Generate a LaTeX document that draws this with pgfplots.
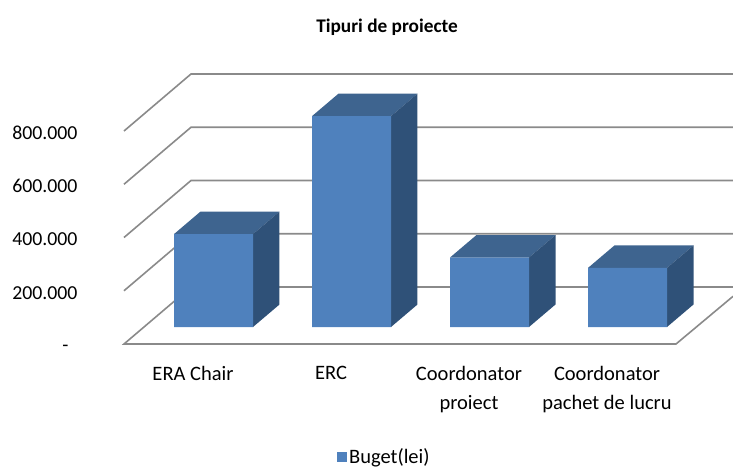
\documentclass[border=0pt]{standalone}
\usepackage{pgfplots}
\pgfplotsset{compat=1.18}
\usepackage{pgfplotstable}
\usepackage{fontspec}
\setmainfont{Carlito}
\definecolor{barfront}{HTML}{4F81BD}
\definecolor{bartop}{HTML}{3E648F}
\definecolor{barside}{HTML}{2F5178}
\definecolor{gridc}{HTML}{8A8A8A}
\pgfplotstableread{
x v
0 349000
1 792000
2 261000
3 222000
}\budget
\begin{document}
\begin{tikzpicture}[x=1pt,y=1pt]
\path[use as bounding box] (0,0) rectangle (733,467);
\begin{axis}[
  at={(124pt,123pt)}, anchor=south west,
  scale only axis, width=609pt, height=270pt,
  xmin=-0.5, xmax=3.913, ymin=0, ymax=1014085,
  clip=false,
  axis line style={draw=none},
  major tick length=0pt,
  xtick={0,1,2,3},
  xticklabels={ERA Chair,ERC,{Coordonator\\proiect},{Coordonator\\pachet de lucru}},
  xticklabel style={font=\fontsize{20.5}{28.5}\selectfont, align=center, anchor=north, yshift=-19pt},
  ytick={0,200000,400000,600000,800000},
  yticklabels={{\smash{\raisebox{-5pt}{-}}\rule{9pt}{0pt}},200.000,400.000,600.000,800.000},
  yticklabel style={font=\fontsize{19.8}{24}\selectfont, anchor=east, xshift=-43pt, yshift=-2pt},
  scaled y ticks=false,
  legend style={at={(0.3497,-0.4165)}, anchor=west, draw=none, fill=none, font=\fontsize{20.5}{24}\selectfont, inner sep=0pt},
  legend image code/.code={\fill[barfront] (-1pt,-23pt) rectangle (9pt,-13pt);},
]
% walls and floor
\addplot[gridc, line width=1.6pt, forget plot] coordinates {(-0.5,800000) (-0.0145,1014085) (3.913,1014085)};
\addplot[gridc, line width=1.6pt, forget plot] coordinates {(-0.5,600000) (-0.0145,814085) (3.913,814085)};
\addplot[gridc, line width=1.6pt, forget plot] coordinates {(-0.5,400000) (-0.0145,614085) (3.913,614085)};
\addplot[gridc, line width=1.6pt, forget plot] coordinates {(-0.5,200000) (-0.0145,414085) (3.913,414085)};
\addplot[gridc, line width=1.6pt, forget plot] coordinates {(-0.0145,214085) (3.913,214085)};
\addplot[gridc, line width=1.6pt, forget plot] coordinates {(-0.0145,214085) (-0.5,0) (3.5,0) (3.913,179000)};
% top faces
\addplot[fill=bartop, draw=none, xshift=20.5pt, yshift=17pt, forget plot] coordinates {(-0.2862,349000) (0.2862,349000) (0.4782,433507) (-0.0942,433507)} --cycle;
\addplot[fill=bartop, draw=none, xshift=20.5pt, yshift=17pt, forget plot] coordinates {(0.7138,792000) (1.2862,792000) (1.4782,876507) (0.9058,876507)} --cycle;
\addplot[fill=bartop, draw=none, xshift=20.5pt, yshift=17pt, forget plot] coordinates {(1.7138,261000) (2.2862,261000) (2.4782,345507) (1.9058,345507)} --cycle;
\addplot[fill=bartop, draw=none, xshift=20.5pt, yshift=17pt, forget plot] coordinates {(2.7138,222000) (3.2862,222000) (3.4782,306507) (2.9058,306507)} --cycle;
% side faces
\addplot[fill=barside, draw=none, xshift=20.5pt, yshift=17pt, forget plot] coordinates {(0.2862,0) (0.2862,349000) (0.4782,433507) (0.4782,84507)} --cycle;
\addplot[fill=barside, draw=none, xshift=20.5pt, yshift=17pt, forget plot] coordinates {(1.2862,0) (1.2862,792000) (1.4782,876507) (1.4782,84507)} --cycle;
\addplot[fill=barside, draw=none, xshift=20.5pt, yshift=17pt, forget plot] coordinates {(2.2862,0) (2.2862,261000) (2.4782,345507) (2.4782,84507)} --cycle;
\addplot[fill=barside, draw=none, xshift=20.5pt, yshift=17pt, forget plot] coordinates {(3.2862,0) (3.2862,222000) (3.4782,306507) (3.4782,84507)} --cycle;
% front faces
\addplot[ybar, bar width=79pt, bar shift=0pt, fill=barfront, draw=none, xshift=20.5pt, yshift=17pt] table[x=x,y=v] {\budget};
\addlegendentry{Buget(lei)}
\end{axis}
\node[font=\bfseries\fontsize{19.3}{23}\selectfont, anchor=center] at (387,440) {Tipuri de proiecte};
\end{tikzpicture}
\end{document}
